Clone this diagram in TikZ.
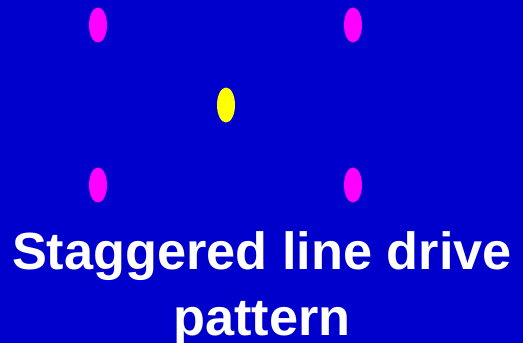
\documentclass[tikz,border=0pt]{standalone}
\usepackage{fontspec}
\setmainfont{Liberation Sans}
\usetikzlibrary{shapes.geometric}
\definecolor{slideblue}{RGB}{0,0,204}
\definecolor{holemagenta}{RGB}{255,0,255}
\definecolor{holeyellow}{RGB}{255,255,0}

\begin{document}
\begin{tikzpicture}[
    x=1pt, y=-1pt,
    hole/.style={ellipse, minimum width=18pt, minimum height=35pt, inner sep=0pt},
    outerhole/.style={hole, fill=holemagenta},
    midhole/.style={hole, fill=holeyellow},
    title/.style={text=white, align=center, font=\bfseries\fontsize{52.3}{66}\selectfont}
]
\fill[slideblue] (0,0) rectangle (523,343);
\useasboundingbox (0,0) rectangle (523,343);
\node[outerhole] (tl) at (98,25) {};
\node[outerhole] (tr) at (353,25) {};
\node[midhole] (mid) at (226,105) {};
\node[outerhole] (bl) at (98,185) {};
\node[outerhole] (br) at (353,185) {};
\node[title, anchor=base] (caption) at (262,335) {Staggered line drive\\pattern};
\end{tikzpicture}
\end{document}
